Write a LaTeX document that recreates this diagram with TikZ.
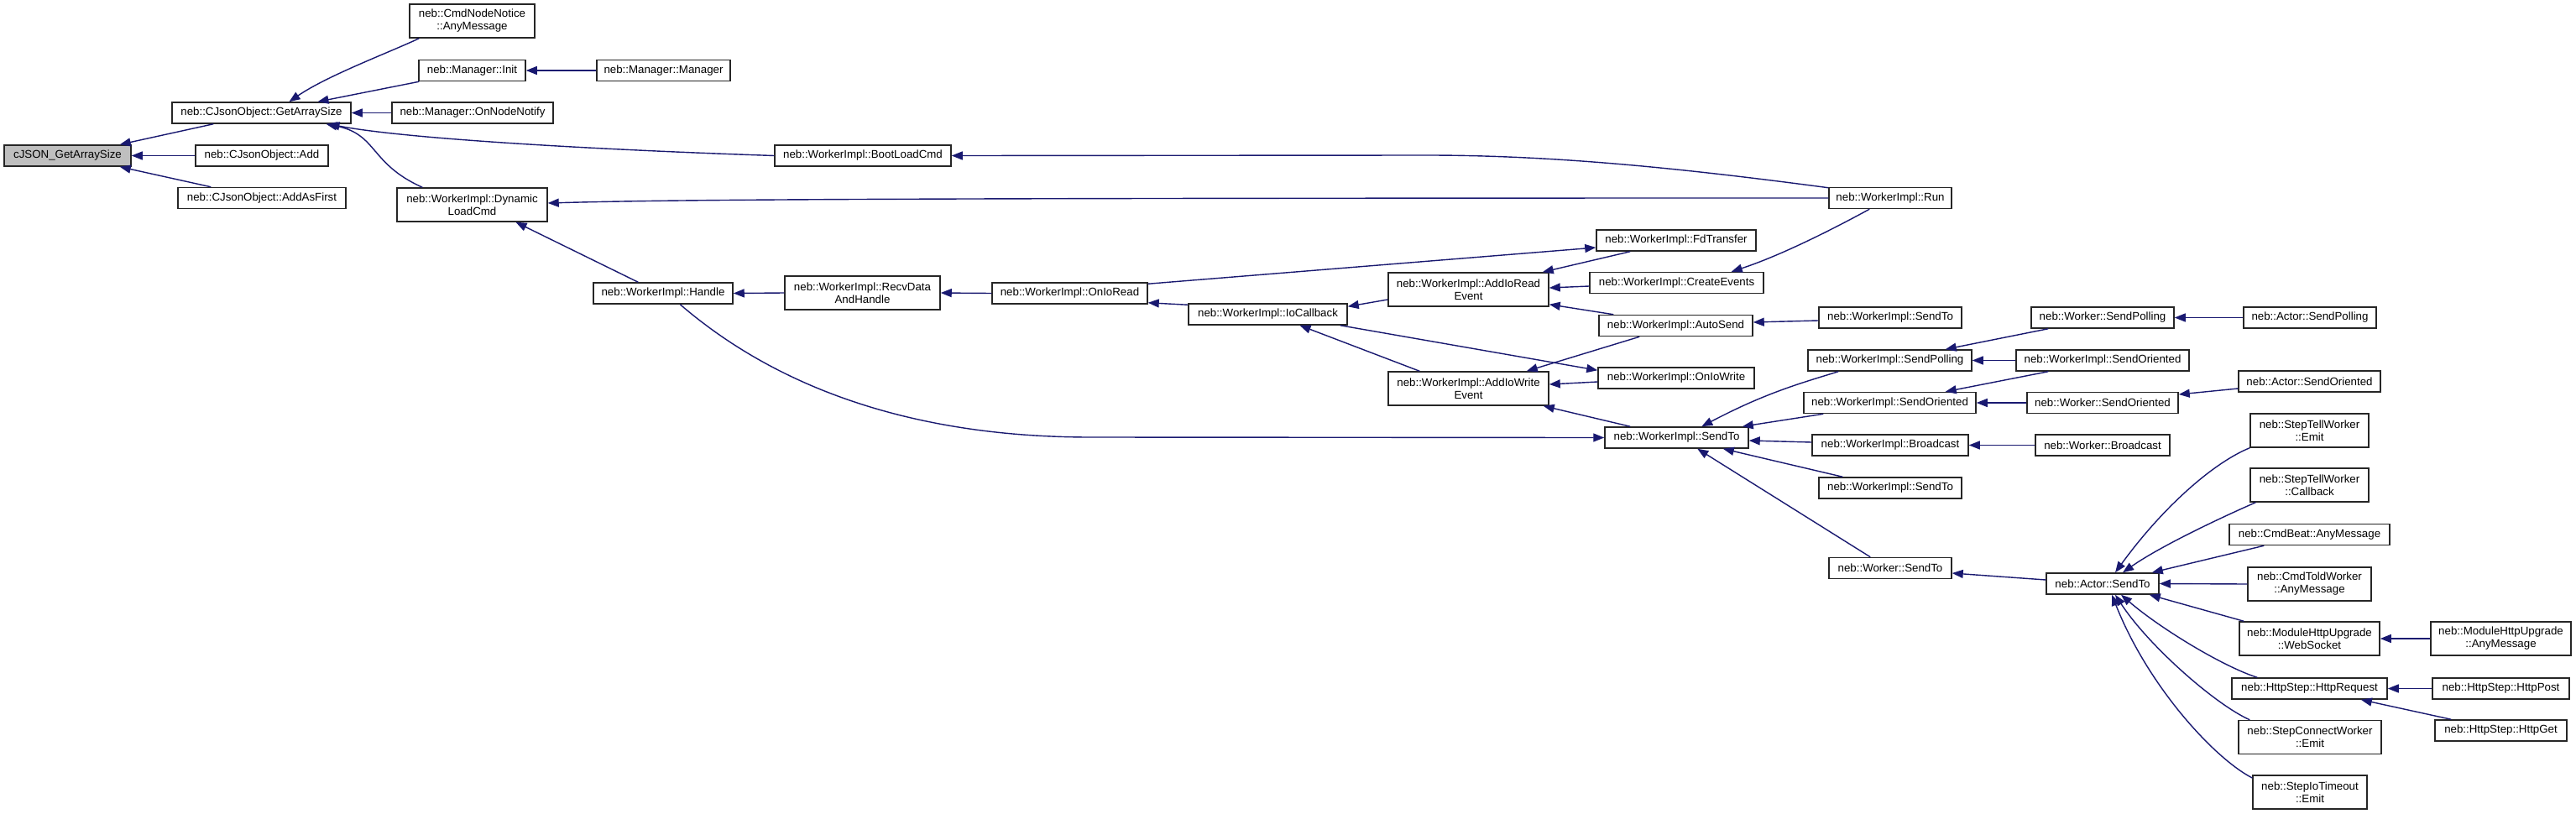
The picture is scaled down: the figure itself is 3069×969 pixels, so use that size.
\documentclass[tikz,border=0pt]{standalone}
\usepackage{fontspec}
\setmainfont{Liberation Sans}
\usetikzlibrary{arrows.meta}
\definecolor{edgeblue}{HTML}{191970}
\definecolor{rootgray}{HTML}{BFBFBF}
\begin{document}
\begin{tikzpicture}[x=1pt,y=-1pt,
  box/.style={draw=black!85,line width=1.5pt,fill=white,inner sep=0pt,align=center,
    font=\fontsize{13.3}{15}\selectfont,minimum height=25pt},
  dbox/.style={box,minimum height=40pt},
  root/.style={box,fill=rootgray},
  e/.style={draw=edgeblue,line width=1.4pt,-{Triangle[length=13pt,width=10pt]}}]
\fill[white] (0,0) rectangle (3069,969);
\useasboundingbox (0,0) rectangle (3069,969);
% column 1-3
\node[root,minimum width=151pt] (cjson) at (80.5,185.5) {cJSON\_GetArraySize};
\node[box,minimum width=213pt] (gas) at (311.5,134.5) {neb::CJsonObject::GetArraySize};
\node[box,minimum width=158pt] (add) at (312,185.5) {neb::CJsonObject::Add};
\node[box,minimum width=200pt] (addfirst) at (312,236) {neb::CJsonObject::AddAsFirst};
\node[dbox,minimum width=149pt] (cnn) at (562.5,25) {neb::CmdNodeNotice\\::AnyMessage};
\node[box,minimum width=127pt] (init) at (562.5,84) {neb::Manager::Init};
\node[box,minimum width=192pt] (onn) at (563,134.5) {neb::Manager::OnNodeNotify};
\node[dbox,minimum width=179pt] (dlc) at (562.5,244) {neb::WorkerImpl::Dynamic\\LoadCmd};
\node[box,minimum width=159pt] (mgr) at (790.5,84) {neb::Manager::Manager};
\node[box,minimum width=210pt] (boot) at (1028,185.5) {neb::WorkerImpl::BootLoadCmd};
\node[box,minimum width=166pt] (handle) at (790,349.5) {neb::WorkerImpl::Handle};
\node[dbox,minimum width=185pt] (recv) at (1027.5,349) {neb::WorkerImpl::RecvData\\AndHandle};
\node[box,minimum width=185pt] (onioread) at (1274.5,349.5) {neb::WorkerImpl::OnIoRead};
\node[box,minimum width=189pt] (iocb) at (1510.5,374.5) {neb::WorkerImpl::IoCallback};
\node[dbox,minimum width=191pt] (addread) at (1749.5,345) {neb::WorkerImpl::AddIoRead\\Event};
\node[dbox,minimum width=191pt] (addwrite) at (1749.5,463) {neb::WorkerImpl::AddIoWrite\\Event};
% column 9
\node[box,minimum width=190pt] (fdt) at (1997,286.5) {neb::WorkerImpl::FdTransfer};
\node[box,minimum width=207pt] (create) at (1997.5,337) {neb::WorkerImpl::CreateEvents};
\node[box,minimum width=183pt] (autosend) at (1996.5,388) {neb::WorkerImpl::AutoSend};
\node[box,minimum width=186pt] (oniowrite) at (1997,450.5) {neb::WorkerImpl::OnIoWrite};
\node[box,minimum width=171pt] (wisend) at (1997.5,521.5) {neb::WorkerImpl::SendTo};
% column 10
\node[box,minimum width=146pt] (run) at (2252,236) {neb::WorkerImpl::Run};
\node[box,minimum width=170pt] (wisendA) at (2252,378.5) {neb::WorkerImpl::SendTo};
\node[box,minimum width=195pt] (spoll) at (2251.5,429.5) {neb::WorkerImpl::SendPolling};
\node[box,minimum width=205pt] (sori) at (2251.5,480) {neb::WorkerImpl::SendOriented};
\node[box,minimum width=186pt] (bcast) at (2252,530.5) {neb::WorkerImpl::Broadcast};
\node[box,minimum width=170pt] (wisendB) at (2252,581.5) {neb::WorkerImpl::SendTo};
\node[box,minimum width=146pt] (wsend) at (2252,677) {neb::Worker::SendTo};
% column 11
\node[box,minimum width=170pt] (wspoll) at (2505,378.5) {neb::Worker::SendPolling};
\node[box,minimum width=206pt] (wisori2) at (2505,429.5) {neb::WorkerImpl::SendOriented};
\node[box,minimum width=180pt] (wsori) at (2505,480) {neb::Worker::SendOriented};
\node[box,minimum width=160pt] (wbcast) at (2505,530.5) {neb::Worker::Broadcast};
\node[box,minimum width=134pt] (asend) at (2505,695.5) {neb::Actor::SendTo};
% column 12
\node[box,minimum width=158pt] (aspoll) at (2752,378.5) {neb::Actor::SendPolling};
\node[box,minimum width=169pt] (asori) at (2751.5,454.5) {neb::Actor::SendOriented};
\node[dbox,minimum width=141pt] (stwemit) at (2751.5,513) {neb::StepTellWorker\\::Emit};
\node[dbox,minimum width=141pt] (stwcb) at (2751.5,578) {neb::StepTellWorker\\::Callback};
\node[box,minimum width=191pt] (beat) at (2751.5,637) {neb::CmdBeat::AnyMessage};
\node[dbox,minimum width=147pt] (told) at (2751.5,696) {neb::CmdToldWorker\\::AnyMessage};
\node[dbox,minimum width=167pt] (websock) at (2751.5,761) {neb::ModuleHttpUpgrade\\::WebSocket};
\node[box,minimum width=185pt] (httpreq) at (2751.5,820.5) {neb::HttpStep::HttpRequest};
\node[dbox,minimum width=170pt] (scw) at (2752,878.5) {neb::StepConnectWorker\\::Emit};
\node[dbox,minimum width=136pt] (siot) at (2752,944) {neb::StepIoTimeout\\::Emit};
% column 13
\node[dbox,minimum width=167pt] (mhuany) at (2979.5,761) {neb::ModuleHttpUpgrade\\::AnyMessage};
\node[box,minimum width=163pt] (httppost) at (2979.5,820.5) {neb::HttpStep::HttpPost};
\node[box,minimum width=157pt] (httpget) at (2979.5,870.5) {neb::HttpStep::HttpGet};
% edges
\draw[e] ([xshift=50pt]gas.south west) -- ([xshift=-14pt]cjson.north east);
\draw[e] (add.west) -- (cjson.east);
\draw[e] ([xshift=40pt]addfirst.north west) -- ([xshift=-14pt]cjson.south east);
\draw[e] ([xshift=12pt]cnn.south west) .. controls (465,62) and (390,90) .. ([xshift=33pt]gas.north);
\draw[e] ([xshift=1pt]init.south west) -- ([xshift=67pt]gas.north);
\draw[e] (onn.west) -- (gas.east);
\draw[e] (boot.west) .. controls (700,178) and (480,165) .. ([xshift=80pt]gas.south);
\draw[e] ([xshift=31pt]dlc.north west) .. controls (440,195) and (450,160) .. ([xshift=77pt]gas.south);
\draw[e] (mgr.west) -- (init.east);
\draw[e] ([yshift=-1pt]run.north west) .. controls (2000,200) and (1850,185) .. (1700,185) -- (boot.east);
\draw[e] (run.west) .. controls (1000,236) and (800,238) .. ([yshift=2pt]dlc.east);
\draw[e] ([xshift=54pt]handle.north west) -- ([xshift=52pt]dlc.south);
\draw[e] (recv.west) -- (handle.east);
\draw[e] ([xshift=104pt]handle.south west) .. controls (900,440) and (1050,521) .. (1300,521) -- (wisend.west);
\draw[e] (onioread.west) -- (recv.east);
\draw[e] ([yshift=-2pt]onioread.north east) -- ([yshift=-8.5pt]fdt.west);
\draw[e] ([yshift=-2pt]iocb.north west) -- ([yshift=2pt]onioread.south east);
\draw[e] ([yshift=-12pt]addread.west) -- ([yshift=-4pt]iocb.north east);
\draw[e] ([xshift=38pt]addwrite.north west) -- ([xshift=38pt]iocb.south);
\draw[e] ([xshift=-9pt]iocb.south east) -- ([yshift=-4pt]oniowrite.north west);
\draw[e] ([xshift=41pt]fdt.south west) -- ([xshift=-8pt]addread.north east);
\draw[e] ([yshift=-4pt]create.west) -- ([yshift=2pt]addread.east);
\draw[e] ([xshift=18pt]autosend.north west) -- ([yshift=3pt]addread.south east);
\draw[e] ([xshift=49pt]autosend.south west) -- ([xshift=-27pt]addwrite.north east);
\draw[e] ([yshift=-4.5pt]oniowrite.west) -- ([yshift=5pt]addwrite.east);
\draw[e] ([xshift=31pt]wisend.north west) -- ([xshift=-7pt]addwrite.south east);
\draw[e] ([xshift=49pt]run.south west) .. controls (2180,275) and (2120,305) .. ([xshift=-39pt]create.north east);
\draw[e] ([yshift=-3.5pt]wisendA.west) -- ([yshift=4pt]autosend.east);
\draw[e] ([xshift=37pt]spoll.south west) .. controls (2140,458) and (2100,470) .. ([xshift=116pt]wisend.north west);
\draw[e] ([xshift=24pt]sori.south west) -- ([xshift=-8pt]wisend.north east);
\draw[e] ([yshift=3.5pt]bcast.west) -- ([yshift=-3.5pt]wisend.east);
\draw[e] ([xshift=29pt]wisendB.north west) -- ([xshift=-31pt]wisend.south east);
\draw[e] ([xshift=50pt]wsend.north west) -- ([xshift=111pt]wisend.south west);
\draw[e] ([xshift=21pt]wspoll.south west) -- ([xshift=-32pt]spoll.north east);
\draw[e] (wisori2.west) -- (spoll.east);
\draw[e] ([xshift=39pt]wisori2.south west) -- ([xshift=-37pt]sori.north east);
\draw[e] (wsori.west) -- (sori.east);
\draw[e] ([yshift=-8.5pt]asori.west) -- ([yshift=10pt]wsori.east);
\draw[e] (wbcast.west) -- (bcast.east);
\draw[e] ([yshift=4.5pt]asend.west) -- ([yshift=-6pt]wsend.east);
\draw[e] (aspoll.west) -- (wspoll.east);
\draw[e] (stwemit.south west) .. controls (2640,550) and (2580,600) .. ([xshift=15pt]asend.north);
\draw[e] ([xshift=7pt]stwcb.south west) .. controls (2650,615) and (2575,650) .. ([xshift=24pt]asend.north);
\draw[e] ([xshift=42pt]beat.south west) -- ([xshift=-9pt]asend.north east);
\draw[e] (told.west) -- (asend.east);
\draw[e] ([xshift=6pt]websock.north west) -- ([xshift=-12pt]asend.south east);
\draw[e] ([xshift=31pt]httpreq.north west) .. controls (2650,795) and (2575,750) .. ([xshift=22pt]asend.south);
\draw[e] ([xshift=14pt]scw.north west) .. controls (2640,840) and (2560,770) .. ([xshift=15pt]asend.south);
\draw[e] ([yshift=17pt]siot.west) .. controls (2640,905) and (2560,820) .. ([xshift=11pt]asend.south);
\draw[e] (mhuany.west) -- (websock.east);
\draw[e] (httppost.west) -- (httpreq.east);
\draw[e] ([xshift=20pt]httpget.north west) -- ([xshift=-32pt]httpreq.south east);
\end{tikzpicture}
\end{document}
